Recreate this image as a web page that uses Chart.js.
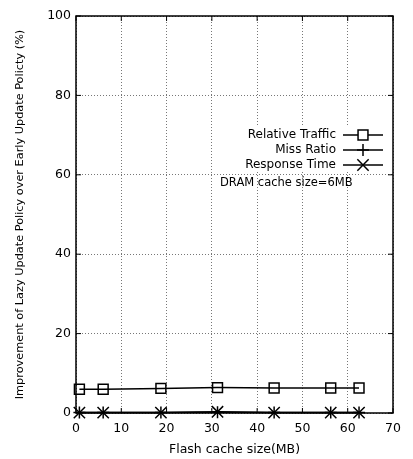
<!DOCTYPE html>
<html>
<head>
<meta charset="utf-8">
<script src="https://cdn.jsdelivr.net/npm/chart.js@4/dist/chart.umd.min.js"></script>
<style>
  html, body { margin: 0; padding: 0; background: #fff; }
  #wrap { width: 413px; height: 459px; }
</style>
</head>
<body>
<div id="wrap"><canvas id="myChart-lazy"></canvas></div>
<script>
// data
const flashSize = [0.75, 6, 18.75, 31.25, 43.75, 56.25, 62.5];
const relativeTraffic = [6.0, 6.0, 6.2, 6.4, 6.3, 6.3, 6.3];
const missRatio = [0.1, 0.1, 0.1, 0.2, 0.1, 0.1, 0.1];
const responseTime = [0.1, 0.1, 0.1, 0.3, 0.1, 0.1, 0.1];
const seriesNames = ['Relative Traffic', 'Miss Ratio', 'Response Time'];
const noteText = 'DRAM cache size=6MB';

const FONT = 'DejaVu Sans';

function pts(ys) {
    return flashSize.map((x, i) => ({ x: x, y: ys[i] }));
}

function ds(label, ys, style, r) {
    return {
        label: label,
        data: pts(ys),
        borderColor: '#000',
        backgroundColor: 'rgba(0,0,0,0)',
        borderWidth: 1.5,
        pointStyle: style,
        pointRadius: r,
        pointBorderWidth: 1.5,
        pointBorderColor: '#000',
        pointBackgroundColor: 'rgba(0,0,0,0)',
        tension: 0,
        clip: false
    };
}

// gnuplot-ish frame, inward ticks, legend on the right
const gnuplotLook = {
    id: 'gnuplotLook',
    beforeDatasetsDraw(chart) {
        const c = chart.ctx;
        c.save();
        c.fillStyle = '#fff';
        c.fillRect(234, 127, 154, 45);
        c.restore();
    },
    afterDraw(chart) {
        const c = chart.ctx;
        const a = chart.chartArea;
        const xs = chart.scales.x, ys = chart.scales.y;
        c.save();
        c.strokeStyle = '#000';
        c.lineWidth = 1.5;
        c.strokeRect(a.left, a.top, a.right - a.left, a.bottom - a.top);
        c.lineWidth = 1;
        c.beginPath();
        xs.ticks.forEach(t => {
            const px = xs.getPixelForValue(t.value);
            c.moveTo(px, a.bottom); c.lineTo(px, a.bottom - 5);
            c.moveTo(px, a.top); c.lineTo(px, a.top + 5);
        });
        ys.ticks.forEach(t => {
            const py = ys.getPixelForValue(t.value);
            c.moveTo(a.left, py); c.lineTo(a.left + 5, py);
            c.moveTo(a.right, py); c.lineTo(a.right - 5, py);
        });
        c.stroke();

        // legend
        c.font = '12px "' + FONT + '"';
        c.textAlign = 'right';
        c.textBaseline = 'middle';
        chart.data.datasets.forEach((d, i) => {
            const y = 135 + i * 15;
            c.fillStyle = '#000';
            c.fillText(d.label, 336, y);
            c.lineWidth = 1.5;
            c.beginPath();
            c.moveTo(343, y); c.lineTo(383, y);
            c.stroke();
            c.fillStyle = '#fff';
            Chart.helpers.drawPoint(c, {
                pointStyle: d.pointStyle, radius: d.pointRadius, borderWidth: 1.5
            }, 363, y);
        });
        c.fillStyle = '#000';
        c.textAlign = 'left';
        c.font = '11.5px "' + FONT + '"';
        c.fillText(noteText, 220, 183);
        c.restore();
    }
};

const ctx1 = document.getElementById('myChart-lazy').getContext('2d');
const myChart1 = new Chart(ctx1, {
    type: 'line',
    data: {
        datasets: [
            ds(seriesNames[0], relativeTraffic, 'rect', 7),
            ds(seriesNames[1], missRatio, 'cross', 6),
            ds(seriesNames[2], responseTime, 'crossRot', 8)
        ]
    },
    options: {
        responsive: true,
        maintainAspectRatio: false,
        animation: false,
        layout: { padding: { top: 16, right: 20, left: 0, bottom: 0 } },
        plugins: {
            legend: { display: false },
            tooltip: { enabled: false }
        },
        scales: {
            x: {
                type: 'linear',
                min: 0, max: 70,
                ticks: { stepSize: 10, color: '#000', font: { family: FONT, size: 12.5 }, padding: 8 },
                grid: { color: '#777', drawTicks: false, tickLength: 0 },
                border: { display: false, dash: [1, 2] },
                title: { display: true, text: 'Flash cache size(MB)', color: '#000', font: { family: FONT, size: 12.5 }, padding: { top: 0, bottom: 2 } },
                afterFit(s) { s.height = 46; }
            },
            y: {
                min: 0, max: 100,
                ticks: { stepSize: 20, color: '#000', font: { family: FONT, size: 12.5 }, padding: 5 },
                grid: { color: '#777', drawTicks: false, tickLength: 0 },
                border: { display: false, dash: [1, 2] },
                title: { display: true, text: 'Improvement of Lazy Update Policy over Early Update Policty (%)', color: '#000', font: { family: FONT, size: 11.3 }, padding: { top: 13, bottom: 0 } },
                afterFit(s) { s.width = 76; }
            }
        }
    },
    plugins: [gnuplotLook]
});
</script>
</body>
</html>
